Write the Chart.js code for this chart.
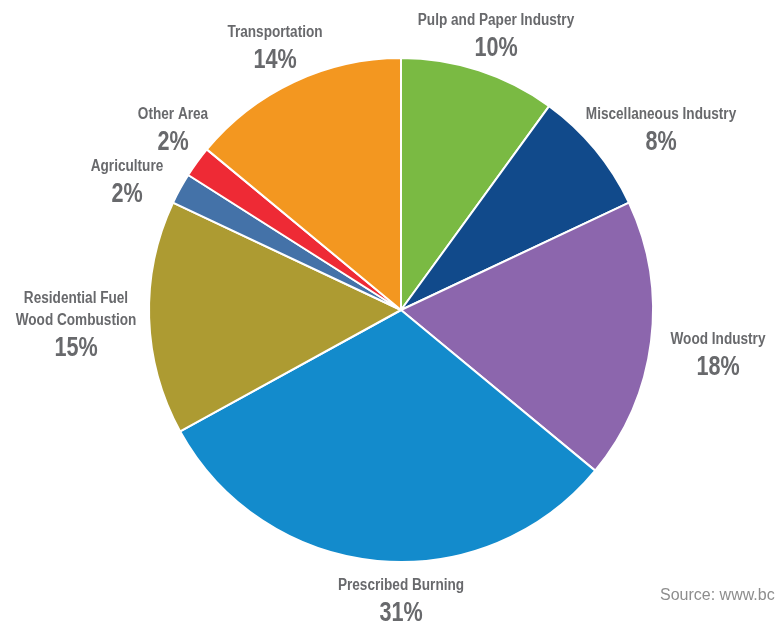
<!DOCTYPE html>
<html>
<head>
<meta charset="utf-8">
<script src="https://cdn.jsdelivr.net/npm/chart.js@4"></script>
<style>
  html, body { margin: 0; padding: 0; background: #fff; }
  #wrap { position: relative; width: 775px; height: 623px; }
</style>
</head>
<body>
<div id="wrap"><canvas id="pie" width="775" height="623"></canvas></div>
<script>
// sources of emissions, clockwise from 12 o'clock
const sectorNames = [
  ["Pulp and Paper Industry"],
  ["Miscellaneous Industry"],
  ["Wood Industry"],
  ["Prescribed Burning"],
  ["Residential Fuel", "Wood Combustion"],
  ["Agriculture"],
  ["Other Area"],
  ["Transportation"]
];
const sharePct = [10, 8, 18, 31, 15, 2, 2, 14];
const sourceNote = "Source: www.bc";

// styling only
const sliceColors = ["#7aba43", "#114a8b", "#8c66ad", "#138bcc", "#ad9b32", "#4472a8", "#ee2a35", "#f39720"];
const labelSpots = [[496, 21], [661, 115], [718, 340], [401, 586], [76, 299], [127, 167], [173, 115], [275, 33]];
const labelGrey = "#68696c";
const boldFont = "'Liberation Sans', Arial, sans-serif";

// fake a condensed face by squeezing the text horizontally
function squeezedText(ctx, text, x, y, squeeze) {
  ctx.save();
  ctx.translate(x, y);
  ctx.scale(squeeze, 1);
  ctx.fillText(text, 0, 0);
  ctx.restore();
}

const labelPlugin = {
  id: "outerLabels",
  afterDraw(chart) {
    const ctx = chart.ctx;
    ctx.save();
    ctx.textAlign = "center";
    ctx.textBaseline = "middle";
    ctx.fillStyle = labelGrey;
    sectorNames.forEach((lines, i) => {
      let [x, y] = labelSpots[i];
      ctx.font = "bold 16px " + boldFont;
      for (const line of lines) {
        squeezedText(ctx, line, x, y, 0.85);
        y += 22;
      }
      ctx.font = "bold 27px " + boldFont;
      squeezedText(ctx, sharePct[i] + "%", x, y + 6, 0.8);
    });
    ctx.textAlign = "left";
    ctx.fillStyle = "#8d8d8d";
    ctx.font = "16px " + boldFont;
    ctx.fillText(sourceNote, 660, 596);
    ctx.restore();
  }
};

new Chart(document.getElementById("pie"), {
  type: "pie",
  data: {
    labels: sectorNames.map(l => l.join(" ")),
    datasets: [{
      data: sharePct,
      backgroundColor: sliceColors,
      borderColor: "#ffffff",
      borderWidth: 2
    }]
  },
  options: {
    responsive: false, animation: false,
    layout: { padding: { left: 148, right: 121, top: 57, bottom: 60 } },
    plugins: {
      legend: { display: false },
      tooltip: { enabled: false }
    }
  },
  plugins: [labelPlugin]
});
</script>
</body>
</html>
